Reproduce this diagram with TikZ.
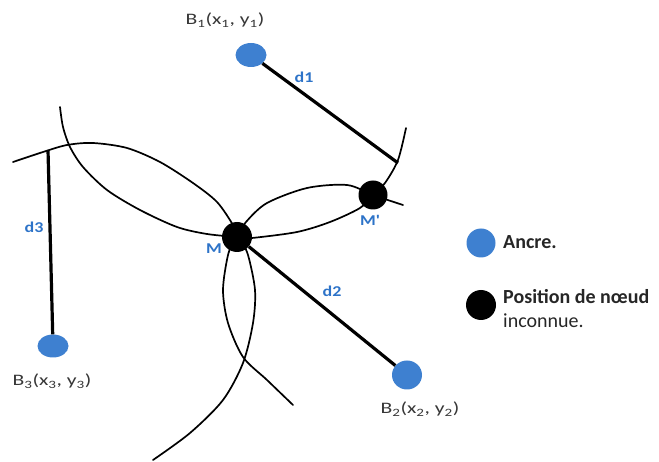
\documentclass[tikz,border=0pt]{standalone}
\usepackage{fontspec}
\setmainfont{Carlito}
\newfontfamily\labfont[FakeStretch=1.2]{Carlito}
\newfontfamily\bfont[FakeStretch=1.35]{Carlito}
\usetikzlibrary{shapes.geometric}
\definecolor{anc}{RGB}{62,128,208}
\definecolor{lab}{RGB}{45,115,200}
\definecolor{txt}{RGB}{55,55,55}
\begin{document}
\begin{tikzpicture}[x=1pt,y=-1pt,
  curve/.style={line width=1.7pt, line cap=round},
  dist/.style={line width=3.2pt},
  ancre/.style={ellipse, fill=anc, inner sep=0pt, minimum width=31pt, minimum height=24pt},
  unk/.style={circle, fill=black, inner sep=0pt, minimum size=30pt},
  dlab/.style={font=\labfont\bfseries\fontsize{15}{15}\selectfont, text=lab},
  blab/.style={font=\bfont\fontsize{16}{16}\selectfont, text=txt},
  leg/.style={font=\fontsize{20}{22}\selectfont, text=black!85, anchor=west, inner sep=0pt}
]
\useasboundingbox (0,0) rectangle (659,462);
% circle arcs
\draw[curve] plot[smooth] coordinates {(406,128) (398,160) (385,183) (373,195) (360,208) (330,222) (297,232) (252,238) (238,238)};
\draw[curve] plot[smooth] coordinates {(238,236) (246,222) (267,203) (307,188) (347,185) (373,195) (403,205)};
\draw[curve] plot[smooth] coordinates {(13,162) (43,152) (67,145) (93,143) (127,148) (160,162) (193,183) (217,202) (233,225) (238,237)};
\draw[curve] plot[smooth] coordinates {(60,107) (63,127) (70,147) (83,167) (107,190) (140,210) (177,227) (207,234) (237,237)};
\draw[curve] plot[smooth] coordinates {(235,238) (228,255) (223,290) (228,323) (243,357) (267,380) (293,405)};
\draw[curve] plot[smooth] coordinates {(240,238) (248,255) (255,290) (253,323) (243,363) (223,400) (190,433) (153,460)};
% nodes
\node[ancre] (B1) at (251,55) {};
\node[ancre, minimum width=30pt, minimum height=29pt] (B2) at (407,375) {};
\node[ancre, minimum width=31pt, minimum height=23pt] (B3) at (53,346) {};
\node[unk] (M) at (237,237) {};
\node[unk, minimum size=29pt] (Mp) at (373,195) {};
\coordinate (a1) at (398,163);
\coordinate (a3) at (48,150);
% distances
\draw[dist] (B1) -- (a1);
\draw[dist] (M) -- (B2);
\draw[dist] (B3) -- (a3);
% labels
\node[dlab] (l1) at (304,77) {d1};
\node[dlab] (l2) at (332,291) {d2};
\node[dlab] (l3) at (34,227) {d3};
\node[dlab] (lM) at (214,249) {M};
\node[dlab] (lMp) at (370,220) {M'};
\node[blab] (t1) at (225,20) {B\textsubscript{1}(x\textsubscript{1}, y\textsubscript{1})};
\node[blab] (t2) at (420,409) {B\textsubscript{2}(x\textsubscript{2}, y\textsubscript{2})};
\node[blab] (t3) at (52,381) {B\textsubscript{3}(x\textsubscript{3}, y\textsubscript{3})};
% legend
\node[circle, fill=anc, inner sep=0pt, minimum size=29pt] (g1) at (481,243) {};
\node[circle, fill=black, inner sep=0pt, minimum size=30pt] (g2) at (481,305) {};
\node[leg, font=\bfseries\fontsize{20}{22}\selectfont] (g1t) at (503,242) {Ancre.};
\node[leg, font=\bfseries\fontsize{20}{22}\selectfont] (g2t) at (503,297) {Position de nœud};
\node[leg] (g2u) at (503,321) {inconnue.};
\end{tikzpicture}
\end{document}
